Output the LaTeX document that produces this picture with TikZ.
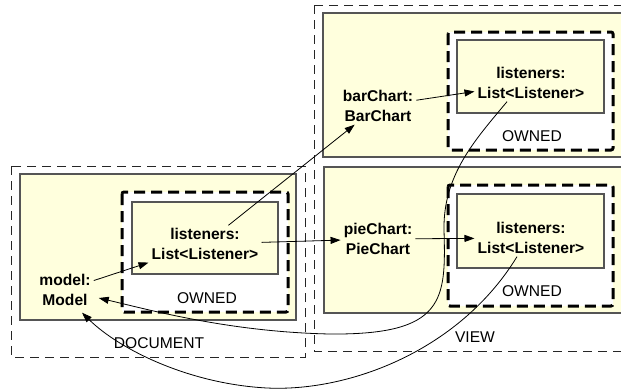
\documentclass[tikz,border=0pt]{standalone}
\usepackage{fontspec}
\setmainfont{Liberation Sans}
\usetikzlibrary{arrows.meta}

\definecolor{notefill}{RGB}{255,255,221}
\definecolor{noteline}{RGB}{85,85,85}

\begin{document}
\begin{tikzpicture}[
    x=1pt,y=-1pt,
    area/.style={draw=black!85, line width=0.8pt, dash pattern=on 9pt off 6pt},
    part/.style={draw=noteline, line width=1.2pt, fill=notefill},
    owned/.style={draw=black, line width=3pt, dash pattern=on 11pt off 6pt, rounded corners=2pt, fill=white},
    obj/.style={font=\bfseries\fontsize{15.6}{19.5}\selectfont, align=center, inner sep=3pt},
    tag/.style={font=\fontsize{15.6}{19}\selectfont, anchor=base, inner sep=0pt},
    link/.style={-{Triangle[length=10pt,width=7pt]}, line width=0.8pt}
    ]
    \useasboundingbox (0,0) rectangle (621,389);
    \clip (0,0) rectangle (621,389);
    \draw[area] (11,166) rectangle (305,357);
    \draw[area] (314,5) rectangle (640,351);
    \draw[part] (20,174) rectangle (296,320);
    \draw[part] (323,13) rectangle (640,157);
    \draw[part] (324,167) rectangle (640,313);
    \draw[owned] (122,192) rectangle (288,312);
    \draw[owned] (448,32) rectangle (613,150);
    \draw[owned] (448,185) rectangle (613,306);
    \draw[part] (132,202) rectangle (278,274);
    \draw[part] (457,40) rectangle (604,113);
    \draw[part] (457,194) rectangle (604,268);
    \node[tag] (docOwned) at (207,303) {OWNED};
    \node[tag] (barOwned) at (532,141) {OWNED};
    \node[tag] (pieOwned) at (532,296) {OWNED};
    \node[tag] (docName) at (159,348) {DOCUMENT};
    \node[tag] (viewName) at (475,342) {VIEW};
    \node[obj] (model) at (65,290) {model:\\Model};
    \node[obj] (docList) at (205,244) {listeners:\\List<Listener>};
    \node[obj] (bar) at (378,106) {barChart:\\BarChart};
    \node[obj] (barList) at (531,83) {listeners:\\List<Listener>};
    \node[obj] (pie) at (378,239) {pieChart:\\PieChart};
    \node[obj] (pieList) at (531,238) {listeners:\\List<Listener>};
    \draw[link] (model) -- (docList);
    \draw[link] (docList) -- (bar);
    \draw[link] (docList) -- (pie);
    \draw[link] (bar) -- (barList);
    \draw[link] (pie) -- (pieList);
    \draw[link] ([xshift=-24pt]barList.south) .. controls (475,140) and (443,175) .. (444,230)
        .. controls (446,300) and (445,335) .. (330,334)
        .. controls (230,332) and (150,310) .. ([xshift=5pt,yshift=-8pt]model.east);
    \draw[link] ([xshift=-14pt]pieList.south) .. controls (460,350) and (350,392) .. (267,388)
        .. controls (190,384) and (120,350) .. ([xshift=17pt,yshift=-4pt]model.south);
  \end{tikzpicture}
\end{document}
